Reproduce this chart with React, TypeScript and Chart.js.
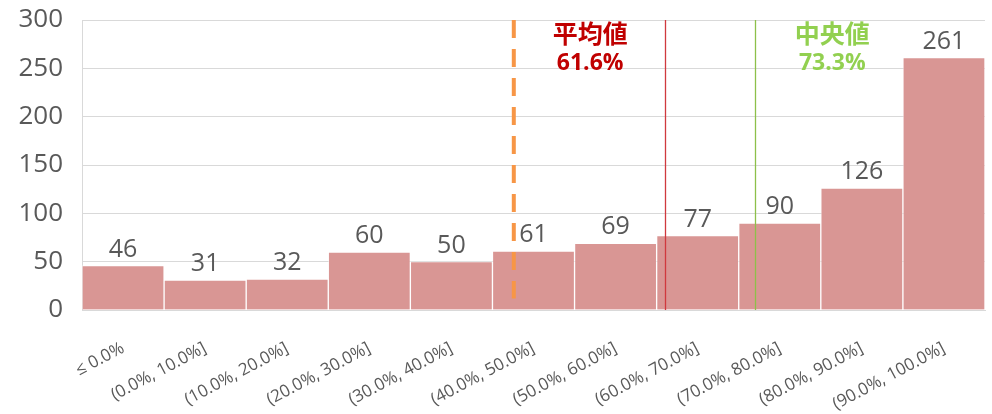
import React, { useEffect, useRef } from "react";
import { Chart, registerables } from "chart.js";

Chart.register(...registerables);

const categories = [
  "≤ 0.0%",
  "(0.0%, 10.0%]",
  "(10.0%, 20.0%]",
  "(20.0%, 30.0%]",
  "(30.0%, 40.0%]",
  "(40.0%, 50.0%]",
  "(50.0%, 60.0%]",
  "(60.0%, 70.0%]",
  "(70.0%, 80.0%]",
  "(80.0%, 90.0%]",
  "(90.0%, 100.0%]",
];
const counts = [46, 31, 32, 60, 50, 61, 69, 77, 90, 126, 261];
const yMin = 0;
const yMax = 300;
const yStep = 50;

// marker positions in category-index units
const dashedMarkerX = 4.76;
const meanMarkerX = 6.6;
const medianMarkerX = 7.7;
const meanTitle = "平均値";
const meanValue = "61.6%";
const medianTitle = "中央値";
const medianValue = "73.3%";
const meanLabelX = 5.69;
const medianLabelX = 8.64;
const labelTitleY = 286;
const labelValueY = 255;
const dashedBottomY = 12;

const GRAY = "#595959";

const overlayPlugin = {
  id: "overlay",
  afterDatasetsDraw(chart: any) {
    const { ctx, scales } = chart;
    const x = scales.x;
    const y = scales.y;
    ctx.save();
    // orange dashed line
    const dx = x.getPixelForValue(dashedMarkerX);
    ctx.strokeStyle = "#F79646";
    ctx.lineWidth = 4;
    ctx.setLineDash([18, 11]);
    ctx.beginPath();
    ctx.moveTo(dx, y.getPixelForValue(yMax));
    ctx.lineTo(dx, y.getPixelForValue(dashedBottomY));
    ctx.stroke();
    ctx.setLineDash([]);
    // mean line
    ctx.lineWidth = 1.3;
    const mx = Math.round(x.getPixelForValue(meanMarkerX)) + 0.5;
    ctx.strokeStyle = "#D0393E";
    ctx.beginPath();
    ctx.moveTo(mx, y.getPixelForValue(yMax));
    ctx.lineTo(mx, y.getPixelForValue(yMin));
    ctx.stroke();
    // median line
    const gx = Math.round(x.getPixelForValue(medianMarkerX)) + 0.5;
    ctx.strokeStyle = "#8DC04A";
    ctx.beginPath();
    ctx.moveTo(gx, y.getPixelForValue(yMax));
    ctx.lineTo(gx, y.getPixelForValue(yMin));
    ctx.stroke();

    // data labels
    const meta = chart.getDatasetMeta(0);
    ctx.fillStyle = GRAY;
    ctx.font = '25px "Open Sans", "Noto Sans", sans-serif';
    ctx.textAlign = "center";
    ctx.textBaseline = "alphabetic";
    meta.data.forEach((bar: any, i: number) => {
      ctx.fillText(String(counts[i]), bar.x, bar.y - 9);
    });

    // annotation texts
    ctx.textBaseline = "middle";
    ctx.font = 'bold 25px "Noto Sans CJK JP", sans-serif';
    ctx.fillStyle = "#C00000";
    ctx.fillText(meanTitle, x.getPixelForValue(meanLabelX), y.getPixelForValue(labelTitleY));
    ctx.fillStyle = "#92D050";
    ctx.fillText(medianTitle, x.getPixelForValue(medianLabelX), y.getPixelForValue(labelTitleY));
    ctx.font = 'bold 23px "Open Sans", "Noto Sans", sans-serif';
    ctx.fillStyle = "#C00000";
    ctx.fillText(meanValue, x.getPixelForValue(meanLabelX), y.getPixelForValue(labelValueY));
    ctx.fillStyle = "#92D050";
    ctx.fillText(medianValue, x.getPixelForValue(medianLabelX), y.getPixelForValue(labelValueY));
    ctx.restore();
  },
};

export default function App() {
  const canvasRef = useRef<HTMLCanvasElement | null>(null);

  useEffect(() => {
    if (!canvasRef.current) return;
    const chart = new Chart(canvasRef.current, {
      type: "bar",
      data: {
        labels: categories,
        datasets: [
          {
            data: counts,
            backgroundColor: "#D99694",
            borderColor: "rgba(255,255,255,0.45)",
            borderWidth: 1,
            categoryPercentage: 1,
            barPercentage: 1,
          },
        ],
      },
      options: {
        animation: false,
        responsive: true,
        maintainAspectRatio: false,
        layout: { padding: { left: 0, right: 7, top: 20, bottom: 0 } },
        plugins: {
          legend: { display: false },
          tooltip: { enabled: false },
          title: { display: false },
        },
        scales: {
          x: {
            grid: { display: false, drawTicks: false },
            border: { display: true, color: "#D9D9D9", width: 1 },
            ticks: {
              autoSkip: false,
              minRotation: 28,
              maxRotation: 28,
              color: GRAY,
              padding: 28,
              font: { family: '"Open Sans", "Noto Sans", sans-serif', size: 17 },
            },
            afterFit: (scale: any) => {
              scale.height = 104;
            },
          },
          y: {
            min: yMin,
            max: yMax,
            grid: { color: "#D9D9D9", lineWidth: 1, drawTicks: false },
            border: { display: true, color: "#D9D9D9", width: 1 },
            ticks: {
              stepSize: yStep,
              color: GRAY,
              padding: 19,
              font: { family: '"Open Sans", "Noto Sans", sans-serif', size: 26 },
            },
            afterFit: (scale: any) => {
              scale.width = 82;
              scale.paddingTop = 0;
              scale.paddingBottom = 0;
            },
          },
        },
      },
      plugins: [overlayPlugin],
    });
    return () => chart.destroy();
  }, []);

  return (
    <div style={{ position: "fixed", left: 0, top: 0, width: 992, height: 414 }}>
      <canvas ref={canvasRef} />
    </div>
  );
}
